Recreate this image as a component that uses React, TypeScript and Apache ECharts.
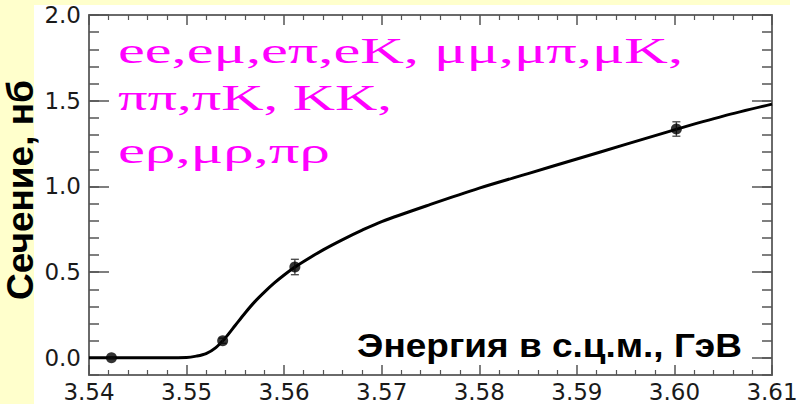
import React, { useEffect, useRef } from "react";
import * as echarts from "echarts";

// ---- data ----
const energyCurve = [3.540, 3.545, 3.550, 3.551, 3.552, 3.553, 3.554, 3.555, 3.556, 3.557, 3.558, 3.559, 3.560, 3.561, 3.562, 3.564, 3.566, 3.568, 3.570, 3.575, 3.580, 3.585, 3.590, 3.595, 3.600, 3.605, 3.610];
const sigmaCurve = [0, 0, 0.002, 0.01, 0.025, 0.06, 0.118, 0.19, 0.262, 0.328, 0.385, 0.437, 0.483, 0.525, 0.562, 0.63, 0.69, 0.745, 0.795, 0.895, 0.99, 1.075, 1.16, 1.245, 1.33, 1.41, 1.48];

const energyData = [3.5423, 3.5537, 3.5611, 3.6002];
const sigmaData = [0.0, 0.10, 0.53, 1.335];
const sigmaErr = [0.005, 0.015, 0.045, 0.042];

const yTicks = [0, 0.5, 1.0, 1.5, 2.0];

const yTitle = "Сечение, нб";
const xTitle = "Энергия в с.ц.м., ГэВ";
const channelLines = ["ee,eμ,eπ,eK, μμ,μπ,μK,", "ππ,πK, KK,", "eρ,μρ,πρ"];

function measure(text: string, font: string): number {
  const ctx = document.createElement("canvas").getContext("2d")!;
  ctx.font = font;
  return ctx.measureText(text).width;
}

export default function App() {
  const ref = useRef<HTMLDivElement>(null);

  useEffect(() => {
    if (!ref.current) return;
    const chart = echarts.init(ref.current, null, { renderer: "svg" });

    const axisColor = "#6a6a6a";
    const tickColor = "#555";
    const labelFont = { fontFamily: "DejaVu Sans", fontSize: 23, color: "#1a1a1a" };

    const mkX = (pos: "top" | "bottom", labels: boolean) => ({
      type: "value",
      gridIndex: 0,
      position: pos,
      min: 3.54,
      max: 3.61,
      interval: 0.01,
      axisLine: { show: true, onZero: false, lineStyle: { color: axisColor, width: 2 } },
      axisTick: { show: true, inside: true, length: 10, lineStyle: { color: tickColor, width: 1.5 } },
      minorTick: { show: true, splitNumber: 5, length: 5, lineStyle: { color: tickColor, width: 1.2 } },
      axisLabel: labels
        ? { show: true, formatter: (v: number) => v.toFixed(2), margin: 5, ...labelFont }
        : { show: false },
      splitLine: { show: false },
      minorSplitLine: { show: false },
    });

    const isMajorY = (v: number) => Math.abs(v * 2 - Math.round(v * 2)) < 1e-6;

    const mkY = (pos: "left" | "right", labels: boolean) => ({
      type: "value",
      gridIndex: 0,
      position: pos,
      min: -0.1,
      max: 2.0,
      interval: 0.1,
      axisLine: { show: true, onZero: false, lineStyle: { color: axisColor, width: 2 } },
      axisTick: { show: true, inside: true, length: 10, lineStyle: { color: tickColor, width: 1.5 } },
      axisLabel: labels
        ? { show: true, formatter: (v: number) => (isMajorY(v) ? v.toFixed(1) : ""), margin: 8, ...labelFont }
        : { show: false },
      splitLine: { show: false },
    });

    const mkYMajor = (pos: "left" | "right") => ({
      type: "value",
      gridIndex: 0,
      position: pos,
      min: -0.1,
      max: 2.0,
      axisLine: { show: false, onZero: false },
      axisTick: { show: true, inside: true, length: 20, customValues: yTicks, lineStyle: { color: tickColor, width: 1.5 } },
      axisLabel: { show: false, customValues: yTicks },
      splitLine: { show: false },
    });

    const serifFont = '36px "Liberation Serif"';
    const lineLefts = [118, 118, 118];
    const lineRights = [683, 392, 330];
    const lineCenters = [51, 98, 151];

    const titleFont = 'bold 34px "Liberation Sans"';
    const xTitleScale = 385 / measure(xTitle, titleFont);
    const yTitleFont = 'bold 36px "Liberation Sans"';
    const yTitleScale = 220 / measure(yTitle, yTitleFont);

    const graphics: any[] = [
      { type: "rect", z: -10, shape: { x: 0, y: 0, width: 34, height: 404 }, style: { fill: "#FFFFCC" }, silent: true },
      { type: "rect", z: -10, shape: { x: 0, y: 0, width: 790, height: 5 }, style: { fill: "#FFFFCC" }, silent: true },
      ...channelLines.map((t, i) => ({
        type: "text",
        z: 10,
        x: lineLefts[i],
        y: lineCenters[i],
        scaleX: (lineRights[i] - lineLefts[i]) / measure(t, serifFont),
        style: { text: t, font: serifFont, fill: "#FF00FF", textAlign: "left", textVerticalAlign: "middle" },
      })),
      {
        type: "text",
        z: 10,
        x: 742,
        y: 346,
        scaleX: xTitleScale,
        style: { text: xTitle, font: titleFont, fill: "#000", textAlign: "right", textVerticalAlign: "middle" },
      },
      {
        type: "text",
        z: 10,
        x: 21,
        y: 190,
        rotation: Math.PI / 2,
        scaleX: yTitleScale,
        style: { text: yTitle, font: yTitleFont, fill: "#000", textAlign: "center", textVerticalAlign: "middle" },
      },
    ];

    chart.setOption({
      animation: false,
      backgroundColor: "#ffffff",
      grid: { left: 89, right: 30, top: 15, bottom: 29, containLabel: false },
      xAxis: [mkX("bottom", true), mkX("top", false)],
      yAxis: [mkY("left", true), mkY("right", false), mkYMajor("left"), mkYMajor("right")],
      graphic: graphics,
      series: [
        {
          type: "line",
          xAxisIndex: 0,
          yAxisIndex: 0,
          data: energyCurve.map((e, i) => [e, sigmaCurve[i]]),
          showSymbol: false,
          smooth: 0.3,
          lineStyle: { color: "#000", width: 3 },
          z: 3,
        },
        {
          type: "custom",
          xAxisIndex: 0,
          yAxisIndex: 0,
          encode: { x: 0, y: [1, 2] },
          data: energyData.map((e, i) => [e, sigmaData[i] - sigmaErr[i], sigmaData[i] + sigmaErr[i]]),
          renderItem: (params: any, api: any) => {
            const x = api.value(0);
            const lo = api.coord([x, api.value(1)]);
            const hi = api.coord([x, api.value(2)]);
            const cap = 4;
            const st = { stroke: "#444", lineWidth: 1.3 };
            return {
              type: "group",
              children: [
                { type: "line", shape: { x1: lo[0], y1: lo[1], x2: hi[0], y2: hi[1] }, style: st },
                { type: "line", shape: { x1: lo[0] - cap, y1: lo[1], x2: lo[0] + cap, y2: lo[1] }, style: st },
                { type: "line", shape: { x1: hi[0] - cap, y1: hi[1], x2: hi[0] + cap, y2: hi[1] }, style: st },
              ],
            };
          },
          z: 4,
        },
        {
          type: "scatter",
          xAxisIndex: 0,
          yAxisIndex: 0,
          data: energyData.map((e, i) => [e, sigmaData[i]]),
          symbol: "circle",
          symbolSize: 11,
          itemStyle: { color: "#000" },
          z: 5,
        },
      ],
    });

    return () => chart.dispose();
  }, []);

  return <div ref={ref} style={{ position: "absolute", left: 0, top: 0, width: 802, height: 404 }} />;
}
